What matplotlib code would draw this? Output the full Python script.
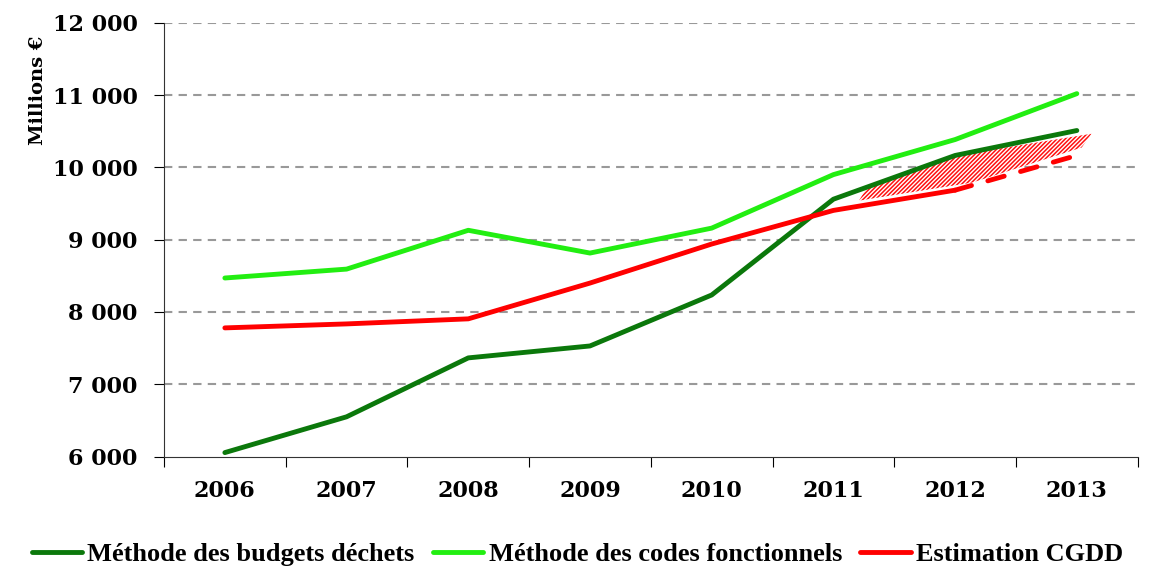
import numpy as np
import matplotlib
matplotlib.use('Agg')
import matplotlib.pyplot as plt

# data (millions of euros)
years = ['2006', '2007', '2008', '2009', '2010', '2011', '2012', '2013']
budgets_dechets = [6055, 6550, 7365, 7530, 8235, 9560, 10165, 10510]
codes_fonctionnels = [8470, 8593, 9130, 8815, 9160, 9900, 10385, 11020]
cgdd_estimation = [7780, 7835, 7905, 8400, 8940, 9405, 9685]
cgdd_projection = [9685, 10165]   # 2012 -> 2013, dashed

# hatched uncertainty band (category index, value)
band_x = [5.21, 5.28, 5.95, 7.12, 7.04, 6.14]
band_y = [9540, 9735, 10150, 10465, 10275, 9790]

serif = 'DejaVu Serif'
plt.rcParams['hatch.linewidth'] = 1.1

fig = plt.figure(figsize=(11.55, 5.7), dpi=100)
ax = fig.add_axes([0.142, 0.199, 0.843, 0.761])

x = np.arange(len(years))
lw = 3.5
ax.plot(x, budgets_dechets, color='#0b780b', lw=lw, solid_capstyle='round',
        label='Méthode des budgets déchets', zorder=4)
ax.plot(x, codes_fonctionnels, color='#22ee11', lw=lw, solid_capstyle='round',
        label='Méthode des codes fonctionnels', zorder=4)
ax.plot(x[:len(cgdd_estimation)], cgdd_estimation, color='#ff0000', lw=lw,
        solid_capstyle='round', label='Estimation CGDD', zorder=4)
ax.plot(x[6:8], cgdd_projection, color='#ff0000', lw=lw, dashes=(3.5, 3.5),
        dash_capstyle='round', zorder=4)

ax.fill(band_x, band_y, facecolor='white', edgecolor='#ff1010', hatch='////////',
        linewidth=0, zorder=3)

ax.set_xlim(-0.5, 7.5)
ax.set_ylim(6000, 12000)
ax.set_yticks(range(6000, 12001, 1000))
ax.set_yticklabels([f'{v // 1000} 000' for v in range(6000, 12001, 1000)],
                   fontfamily=serif, fontweight='bold', fontsize=16)
ax.set_xticks(np.arange(-0.5, 8, 1))
ax.set_xticklabels([])
ax.set_xticks(x, minor=True)
ax.set_xticklabels(years, minor=True, fontfamily=serif, fontweight='bold', fontsize=16)
ax.tick_params(axis='x', which='major', length=7, direction='out')
ax.tick_params(axis='x', which='minor', length=0, pad=17)
ax.tick_params(axis='y', length=7, direction='out', pad=12)

for v in range(7000, 12001, 1000):
    ax.axhline(v, color='#999999', lw=1.5, dashes=(4, 3), zorder=1)

for s in ['top', 'right']:
    ax.spines[s].set_visible(False)
ax.spines['left'].set_color('#333333')
ax.spines['bottom'].set_color('#333333')

fig.text(0.033, 1 - 90 / 570, 'Millions €', rotation=90, ha='center', va='center',
         fontfamily=serif, fontweight='bold', fontsize=14)

fig.legend(loc='lower center', bbox_to_anchor=(0.5, -0.035), ncol=3, frameon=False,
           handlelength=1.9, handletextpad=0.2, columnspacing=0.7,
           prop={'family': 'Liberation Serif', 'weight': 'bold', 'size': 19})

plt.savefig('out.png', dpi=100)
plt.close()
